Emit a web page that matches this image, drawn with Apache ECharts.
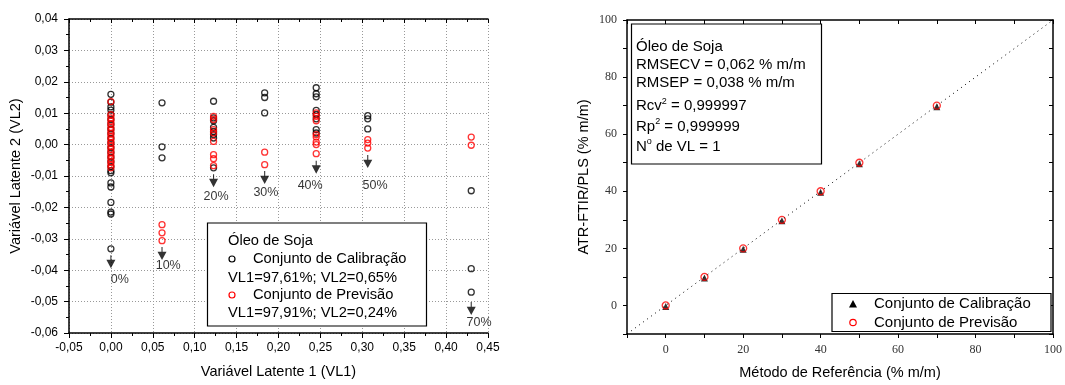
<!DOCTYPE html>
<html>
<head>
<meta charset="utf-8">
<script src="https://cdn.jsdelivr.net/npm/echarts@6/dist/echarts.min.js"></script>
<style>
  html, body { margin: 0; padding: 0; background: #fff; }
  #chart { width: 1065px; height: 385px; }
</style>
</head>
<body>
<div id="chart"></div>
<script>
// scores (VL1 x VL2) por nível de adulteração
var vl1Levels = [0, 0.061, 0.1225, 0.1835, 0.245, 0.3065, 0.430];
var calVL2 = [
	[0.016, 0.0135, 0.012, 0.011, 0.0095, 0.008, 0.0065, 0.005, 0.0035, 0.002, 0.0005, -0.001, -0.0025, -0.004, -0.0055, -0.007, -0.0083, -0.009, -0.0122, -0.0135, -0.0184, -0.0215, -0.0221, -0.0332],
	[0.0133, -0.0007, -0.0042],
	[0.0138, 0.0085, 0.0076, 0.0055, 0.0042, 0.0032, 0.0021, -0.0074],
	[0.0165, 0.015, 0.0101],
	[0.0181, 0.0162, 0.0152, 0.0109, 0.0096, 0.0082, 0.0048, 0.0037],
	[0.0092, 0.0082, 0.005],
	[-0.0147, -0.0395, -0.047]
];
var predVL2 = [
	[0.0137, 0.0095, 0.0085, 0.0075, 0.0065, 0.0055, 0.0045, 0.0035, 0.0025, 0.0015, 0.0005, -0.0005, -0.0015, -0.0025, -0.0035, -0.0045, -0.0055, -0.0065, -0.0074],
	[-0.0255, -0.0281, -0.0306],
	[0.009, 0.008, 0.0048, 0.0037, 0.001, -0.0032, -0.0045, -0.0067],
	[-0.0024, -0.0064],
	[0.0101, 0.009, 0.0076, 0.0032, 0.0024, 0.0008, 0, -0.0029],
	[0.0016, 0.0005, -0.0011],
	[0.0024, -0.0002]
];
// setas e rótulos (% de adulteração)
var levelNames = ['0%', '10%', '20%', '30%', '40%', '50%', '70%'];
var arrowVL2 = [-0.0373, -0.0347, -0.0115, -0.0105, -0.0072, -0.0054, -0.0522];
var labelVL1 = [0.0107, 0.0684, 0.1254, 0.185, 0.2378, 0.3153, 0.4394];
var labelVL2 = [-0.043, -0.0385, -0.0165, -0.0154, -0.0131, -0.0131, -0.0566];

// previsão x referência (% m/m)
var refValues = [0, 10, 20, 30, 40, 50, 70];
var calPredicted = [0, 10, 20, 30, 40, 50, 70];
var valPredicted = [0, 10, 20, 30, 40, 50, 70];

var sans = "'Liberation Sans', Arial, sans-serif";
var serif = "'Liberation Serif', 'Times New Roman', serif";

function pairs(levels, lists) {
	var out = [];
	for (var i = 0; i < levels.length; i++) {
		for (var j = 0; j < lists[i].length; j++) out.push([levels[i], lists[i][j]]);
	}
	return out;
}
function comma(v) { return v.toFixed(2).replace('.', ','); }

var arrowData = vl1Levels.map(function(x, i) { return [x, arrowVL2[i]]; });
var labelData = levelNames.map(function(n, i) { return { name: n, value: [labelVL1[i], labelVL2[i]] }; });

var arrowPath = 'path://M4.4,0 L5.6,0 L5.6,5 L10,5 L5,14 L0,5 L4.4,5 Z';

var chart = echarts.init(document.getElementById('chart'));
var option = {
	animation: false,
	backgroundColor: '#fff',
	grid: [
		{ left: 69, top: 19, width: 419, height: 314 },
		{ left: 627, top: 20, width: 428, height: 319 }
	],
	xAxis: [
		{
			gridIndex: 0, type: 'value', min: -0.05, max: 0.45, interval: 0.05,
			name: 'Variável Latente 1 (VL1)', nameLocation: 'middle', nameGap: 31,
			nameTextStyle: { fontFamily: sans, fontSize: 14.5, color: '#000' },
			axisLine: { onZero: false, lineStyle: { color: '#000', width: 1.5 } },
			axisTick: { inside: false, length: 5, lineStyle: { color: '#000' } },
			minorTick: { show: true, splitNumber: 2, length: 3, lineStyle: { color: '#000' } },
			axisLabel: { fontFamily: sans, fontSize: 12, color: '#000', margin: 9, formatter: comma },
			splitLine: { show: true, lineStyle: { color: '#999', type: [1, 2] } }
		},
		{
			gridIndex: 0, type: 'value', min: -0.05, max: 0.45, interval: 0.05, position: 'top',
			axisLine: { onZero: false, lineStyle: { color: '#000', width: 1.5 } },
			axisTick: { inside: true, length: 4, lineStyle: { color: '#000' } },
			minorTick: { show: true, splitNumber: 2, length: 3, lineStyle: { color: '#000' } },
			axisLabel: { show: false }, splitLine: { show: false }
		},
		{
			gridIndex: 1, type: 'value', min: -10, max: 100, interval: 10,
			name: 'Método de Referência (% m/m)', nameLocation: 'middle', nameGap: 31,
			nameTextStyle: { fontFamily: sans, fontSize: 14.5, color: '#000' },
			axisLine: { onZero: false, lineStyle: { color: '#000', width: 1.5 } },
			axisTick: { inside: false, length: 4, lineStyle: { color: '#000' } },
			axisLabel: { fontFamily: serif, fontSize: 12, color: '#333', margin: 10,
				formatter: function(v) { return v % 20 === 0 ? String(v) : ''; } },
			splitLine: { show: false }
		},
		{
			gridIndex: 1, type: 'value', min: -10, max: 100, interval: 10, position: 'top',
			axisLine: { onZero: false, lineStyle: { color: '#000', width: 1.5 } },
			axisTick: { inside: true, length: 4, lineStyle: { color: '#000' } },
			axisLabel: { show: false }, splitLine: { show: false }
		}
	],
	yAxis: [
		{
			gridIndex: 0, type: 'value', min: -0.06, max: 0.04, interval: 0.01,
			name: 'Variável Latente 2 (VL2)', nameLocation: 'middle', nameGap: 46,
			nameTextStyle: { fontFamily: sans, fontSize: 14.5, color: '#000' },
			axisLine: { onZero: false, lineStyle: { color: '#000', width: 1.5 } },
			axisTick: { inside: false, length: 5, lineStyle: { color: '#000' } },
			minorTick: { show: true, splitNumber: 2, length: 3, lineStyle: { color: '#000' } },
			axisLabel: { fontFamily: sans, fontSize: 12, color: '#000', margin: 11, formatter: comma },
			splitLine: { show: true, lineStyle: { color: '#999', type: [1, 2] } }
		},
		{
			gridIndex: 1, type: 'value', min: -10, max: 100, interval: 10,
			name: 'ATR-FTIR/PLS (% m/m)', nameLocation: 'middle', nameGap: 36,
			nameTextStyle: { fontFamily: sans, fontSize: 14.5, color: '#000' },
			axisLine: { onZero: false, lineStyle: { color: '#000', width: 1.5 } },
			axisTick: { inside: false, length: 4, lineStyle: { color: '#000' } },
			axisLabel: { fontFamily: serif, fontSize: 12, color: '#333', margin: 10,
				formatter: function(v) { return v % 20 === 0 ? String(v) : ''; } },
			splitLine: { show: false }
		},
		{
			gridIndex: 1, type: 'value', min: -10, max: 100, interval: 10, position: 'right',
			axisLine: { onZero: false, lineStyle: { color: '#000', width: 1.5 } },
			axisTick: { inside: true, length: 4, lineStyle: { color: '#000' } },
			axisLabel: { show: false }, splitLine: { show: false }
		}
	],
	series: [
		{
			name: 'Conjunto de Calibração', type: 'scatter', xAxisIndex: 0, yAxisIndex: 0,
			data: pairs(vl1Levels, calVL2), symbol: 'circle', symbolSize: 6,
			itemStyle: { color: 'rgba(0,0,0,0)', borderColor: '#000', borderWidth: 1.3 }
		},
		{
			name: 'Conjunto de Previsão', type: 'scatter', xAxisIndex: 0, yAxisIndex: 0,
			data: pairs(vl1Levels, predVL2), symbol: 'circle', symbolSize: 6,
			itemStyle: { color: 'rgba(0,0,0,0)', borderColor: '#f00', borderWidth: 1.3 }
		},
		{
			name: 'setas', type: 'scatter', xAxisIndex: 0, yAxisIndex: 0, silent: true,
			data: arrowData, symbol: arrowPath, symbolSize: [9, 13],
			itemStyle: { color: '#000' }
		},
		{
			name: 'rótulos', type: 'scatter', xAxisIndex: 0, yAxisIndex: 0, silent: true,
			data: labelData, symbolSize: 0,
			label: { show: true, position: 'inside', formatter: '{b}',
				fontFamily: sans, fontSize: 12.5, color: '#000' }
		},
		{
			name: 'y = x', type: 'line', xAxisIndex: 2, yAxisIndex: 1, silent: true,
			data: [[-10, -10], [100, 100]], symbol: 'none',
			lineStyle: { color: '#000', width: 1, type: [1, 4] }
		},
		{
			name: 'Conjunto de Calibração', type: 'scatter', xAxisIndex: 2, yAxisIndex: 1,
			data: refValues.map(function(v, i) { return [v, calPredicted[i]]; }),
			symbol: 'triangle', symbolSize: 7, symbolOffset: [0, 1],
			itemStyle: { color: '#000' }
		},
		{
			name: 'Conjunto de Previsão', type: 'scatter', xAxisIndex: 2, yAxisIndex: 1,
			data: refValues.map(function(v, i) { return [v, valPredicted[i]]; }),
			symbol: 'circle', symbolSize: 7,
			itemStyle: { color: 'rgba(0,0,0,0)', borderColor: '#f00', borderWidth: 1.3 }
		}
	],
	graphic: [
		// legenda do gráfico de scores
		{ type: 'rect', shape: { x: 207.5, y: 223, width: 219, height: 103 },
			style: { fill: '#fff', stroke: '#000', lineWidth: 1.2 }, z: 10 },
		{ type: 'text', x: 228, y: 241, z: 11, style: { text: 'Óleo de Soja', font: '14.7px ' + sans, fill: '#000', verticalAlign: 'middle' } },
		{ type: 'circle', shape: { cx: 232, cy: 259, r: 3 }, z: 11, style: { fill: 'none', stroke: '#000', lineWidth: 1.2 } },
		{ type: 'text', x: 253, y: 259, z: 11, style: { text: 'Conjunto de Calibração', font: '14.7px ' + sans, fill: '#000', verticalAlign: 'middle' } },
		{ type: 'text', x: 228, y: 277.5, z: 11, style: { text: 'VL1=97,61%; VL2=0,65%', font: '14.7px ' + sans, fill: '#000', verticalAlign: 'middle' } },
		{ type: 'circle', shape: { cx: 232, cy: 295, r: 3 }, z: 11, style: { fill: 'none', stroke: '#f00', lineWidth: 1.2 } },
		{ type: 'text', x: 253, y: 295, z: 11, style: { text: 'Conjunto de Previsão', font: '14.7px ' + sans, fill: '#000', verticalAlign: 'middle' } },
		{ type: 'text', x: 228, y: 313, z: 11, style: { text: 'VL1=97,91%; VL2=0,24%', font: '14.7px ' + sans, fill: '#000', verticalAlign: 'middle' } },

		// caixa de parâmetros do modelo
		{ type: 'rect', shape: { x: 631.5, y: 24, width: 190, height: 140 },
			style: { fill: '#fff', stroke: '#000', lineWidth: 1.2 }, z: 10 },
		{ type: 'text', x: 636, y: 47, z: 11, style: { text: 'Óleo de Soja', font: '15px ' + sans, fill: '#000', verticalAlign: 'middle' } },
		{ type: 'text', x: 636, y: 65, z: 11, style: { text: 'RMSECV = 0,062 % m/m', font: '15px ' + sans, fill: '#000', verticalAlign: 'middle' } },
		{ type: 'text', x: 636, y: 83, z: 11, style: { text: 'RMSEP = 0,038 % m/m', font: '15px ' + sans, fill: '#000', verticalAlign: 'middle' } },
		{ type: 'text', x: 636, y: 106, z: 11, style: { text: 'Rcv{s|2} = 0,999997', font: '15px ' + sans, fill: '#000', verticalAlign: 'middle',
			rich: { s: { fontSize: 9, fontFamily: sans, padding: [0, 0, 9, 0] } } } },
		{ type: 'text', x: 636, y: 126.5, z: 11, style: { text: 'Rp{s|2} = 0,999999', font: '15px ' + sans, fill: '#000', verticalAlign: 'middle',
			rich: { s: { fontSize: 9, fontFamily: sans, padding: [0, 0, 9, 0] } } } },
		{ type: 'text', x: 636, y: 146.5, z: 11, style: { text: 'N{s|o} de VL = 1', font: '15px ' + sans, fill: '#000', verticalAlign: 'middle',
			rich: { s: { fontSize: 9, fontFamily: sans, padding: [0, 0, 9, 0] } } } },

		// legenda do gráfico de previsão
		{ type: 'rect', shape: { x: 832, y: 293.5, width: 219, height: 38 },
			style: { fill: '#fff', stroke: '#000', lineWidth: 1.2 }, z: 10 },
		{ type: 'polygon', shape: { points: [[853, 300], [857, 307.5], [849, 307.5]] }, z: 11, style: { fill: '#000' } },
		{ type: 'text', x: 874, y: 304, z: 11, style: { text: 'Conjunto de Calibração', font: '15px ' + sans, fill: '#000', verticalAlign: 'middle' } },
		{ type: 'circle', shape: { cx: 853, cy: 322.5, r: 3.2 }, z: 11, style: { fill: 'none', stroke: '#f00', lineWidth: 1.2 } },
		{ type: 'text', x: 874, y: 322.5, z: 11, style: { text: 'Conjunto de Previsão', font: '15px ' + sans, fill: '#000', verticalAlign: 'middle' } }
	]
};
chart.setOption(option);
</script>
</body>
</html>
